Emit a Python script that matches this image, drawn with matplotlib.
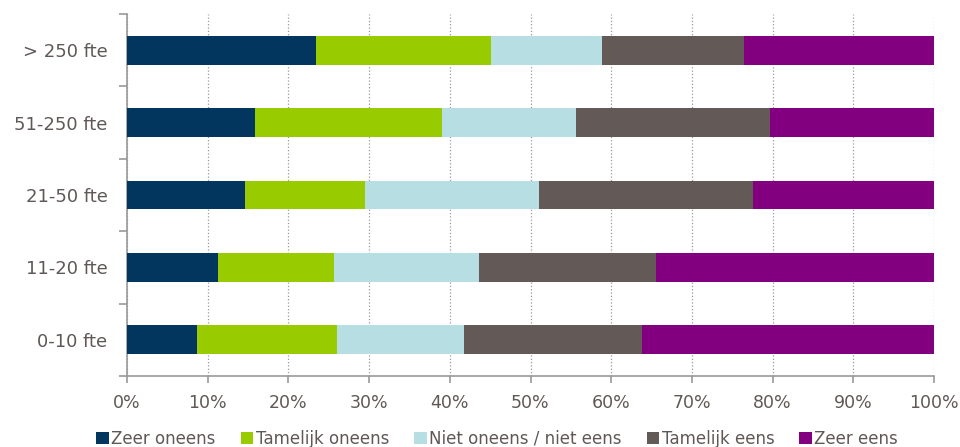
import matplotlib.pyplot as plt
import numpy as np
from matplotlib.ticker import FixedLocator, PercentFormatter

plt.rcParams['font.family'] = 'DejaVu Sans'

# categorieen (van onder naar boven)
groepen = ['0-10 fte', '11-20 fte', '21-50 fte', '51-250 fte', '> 250 fte']
zeer_oneens = [8.7, 11.3, 14.6, 15.9, 23.4]
tamelijk_oneens = [17.3, 14.4, 14.9, 23.1, 21.7]
neutraal = [15.8, 17.9, 21.5, 16.7, 13.8]
tamelijk_eens = [22.0, 21.9, 26.6, 24.0, 17.6]
zeer_eens = [36.2, 34.5, 22.4, 20.3, 23.5]

reeksen = ['Zeer oneens', 'Tamelijk oneens', 'Niet oneens / niet eens', 'Tamelijk eens', 'Zeer eens']
kleuren = ['#03365F', '#99CC00', '#B7DEE2', '#635957', '#820080']
tekstkleur = '#605856'

fig = plt.figure(figsize=(9.6, 4.47), dpi=100)
ax = fig.add_axes([127/960, 1-376/447, (934-127)/960, (376-14)/447])

y = np.arange(len(groepen))
links = np.zeros(len(groepen))
for naam, waarden, kleur in zip(reeksen, [zeer_oneens, tamelijk_oneens, neutraal, tamelijk_eens, zeer_eens], kleuren):
    ax.barh(y, waarden, left=links, height=0.4, color=kleur, label=naam, zorder=3)
    links += np.array(waarden)

ax.set_xlim(0, 100)
ax.set_ylim(-0.5, len(groepen) - 0.5)
ax.xaxis.set_major_locator(FixedLocator(np.arange(0, 101, 10)))
ax.xaxis.set_major_formatter(PercentFormatter(decimals=0))
ax.grid(axis='x', linestyle=':', color='#999999', linewidth=0.9, zorder=0)

ax.set_yticks(y)
ax.set_yticklabels(groepen)
ax.yaxis.set_minor_locator(FixedLocator(np.arange(-0.5, len(groepen), 1)))
ax.tick_params(axis='y', which='major', length=0, pad=14, labelsize=13, labelcolor=tekstkleur)
ax.tick_params(axis='y', which='minor', length=6, color='#999999', width=1.2)
ax.tick_params(axis='x', which='major', length=5, color='#999999', width=1.2, pad=8,
               labelsize=12.5, labelcolor=tekstkleur)

for s in ['top', 'right']:
    ax.spines[s].set_visible(False)
for s in ['left', 'bottom']:
    ax.spines[s].set_color('#999999')
    ax.spines[s].set_linewidth(1.2)

fig.legend(loc='lower center', bbox_to_anchor=(0.518, -0.035), ncol=5, frameon=False,
           fontsize=12, labelcolor=tekstkleur, handlelength=0.75, handleheight=0.75,
           handletextpad=0.15, columnspacing=1.5)

plt.savefig('out.png', dpi=100)
